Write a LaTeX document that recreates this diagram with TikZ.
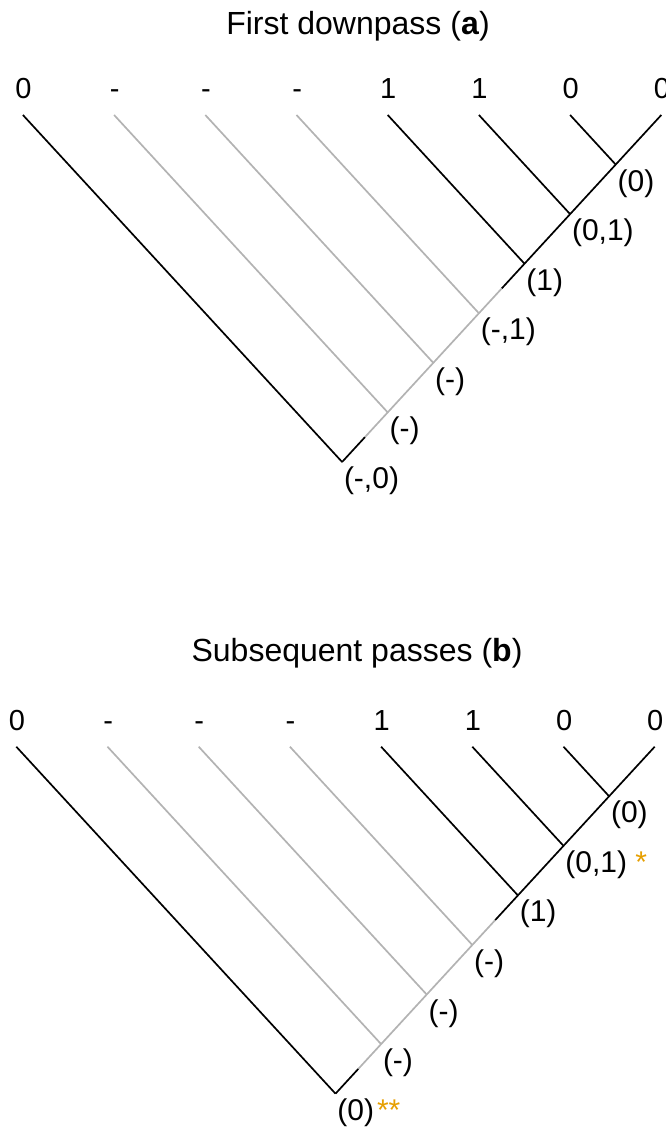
\documentclass[tikz,border=0pt]{standalone}
\usepackage{fontspec}
\setmainfont{Liberation Sans}
\usetikzlibrary{calc}
\definecolor{branchgray}{HTML}{B3B3B3}
\definecolor{staror}{HTML}{E69F00}
\tikzset{
  blk/.style={draw=black, line width=0.85pt},
  gry/.style={draw=branchgray, line width=0.85pt},
  tiplab/.style={font=\fontsize{14.5}{17}\selectfont, inner sep=0pt, anchor=base},
  intlab/.style={font=\fontsize{15}{17}\selectfont, inner sep=0pt, anchor=base west},
  ttl/.style={font=\fontsize{16}{19}\selectfont, inner sep=0pt, anchor=base},
}
\newcommand\drawtree[8]{% #1 prefix, #2 xshift, #3 yshift, #4..#8 labels of nodes n5 n3 n2 n1 n0
\begin{scope}[shift={(#2,#3)}]
  \foreach \i/\t in {0/0,1/-,2/-,3/-,4/1,5/1,6/0,7/0} {
    \coordinate (#1t\i) at ({22.9+91.2*\i},115);
    \node[tiplab] (#1l\i) at ({23.5+91.2*\i},99) {\t};
  }
  \foreach \i in {1,...,6} {
    \coordinate (#1n\i) at ({(22.9+91.2*\i+661.3)/2},{115+(661.3-22.9-91.2*\i)/1.84});
  }
  \coordinate (#1n0) at (342.1,461.96);
  \coordinate (#1m4) at ($(#1n4)!0.5!(#1n3)$);
  \coordinate (#1m1) at ($(#1n1)!0.5!(#1n0)$);
  % tip branches
  \draw[blk] (#1t0) -- (#1n0);
  \foreach \i in {1,2,3} { \draw[gry] (#1t\i) -- (#1n\i); }
  \foreach \i in {4,5,6} { \draw[blk] (#1t\i) -- (#1n\i); }
  % spine
  \draw[blk] (#1t7) -- (#1n6) -- (#1n5) -- (#1n4) -- (#1m4);
  \draw[gry] (#1m4) -- (#1n3) -- (#1n2) -- (#1n1) -- (#1m1);
  \draw[blk] (#1m1) -- (#1n0);
  % internal labels
  \node[intlab] (#1k6) at ($(#1n6)+(1.5,26.5)$) {(0)};
  \node[intlab] (#1k5) at ($(#1n5)+(1.5,26.5)$) {#4};
  \node[intlab] (#1k4) at ($(#1n4)+(1.5,26.5)$) {(1)};
  \node[intlab] (#1k3) at ($(#1n3)+(1.5,26.5)$) {#5};
  \node[intlab] (#1k2) at ($(#1n2)+(1.5,26.5)$) {#6};
  \node[intlab] (#1k1) at ($(#1n1)+(1.5,26.5)$) {#7};
  \node[intlab] (#1k0) at ($(#1n0)+(1.5,26.5)$) {#8};
\end{scope}}
\begin{document}
\begin{tikzpicture}[x=0.5pt,y=-0.5pt]
  \useasboundingbox (0,0) rectangle (665,1127);
  \node[ttl] (atitle) at (358,35) {First downpass (\textbf{a})};
  \node[ttl] (btitle) at (357,661) {Subsequent passes (\textbf{b})};
  \drawtree{a}{0}{0}{(0,1)}{(-,1)}{(-)}{(-)}{(-,0)}
  \drawtree{b}{-6.6}{631.7}{(0,1) \textcolor{staror}{*}}{(-)}{(-)}{(-)}{(0)\kern1.5pt\textcolor{staror}{**}}
\end{tikzpicture}
\end{document}
